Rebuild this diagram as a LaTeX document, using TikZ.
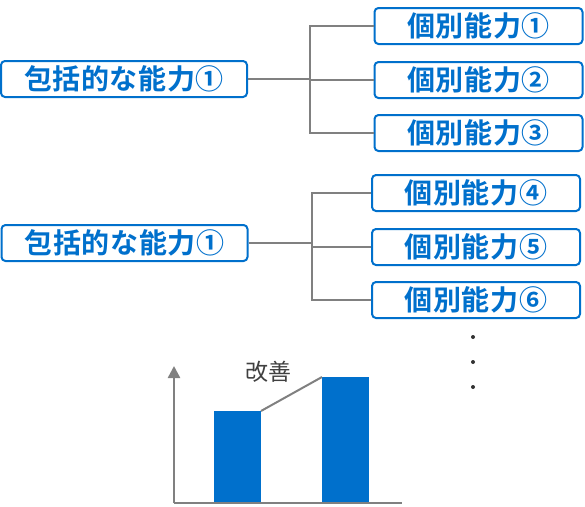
\documentclass[tikz,border=0pt]{standalone}
\usepackage{fontspec}
\usetikzlibrary{arrows.meta}
\newfontfamily\cjk{Noto Sans CJK JP}[BoldFont={Noto Sans CJK JP Bold}]
\newfontfamily\cjkwide{Noto Sans CJK JP}[BoldFont={Noto Sans CJK JP Bold}, LetterSpace=2]
\definecolor{boxblue}{RGB}{0,112,204}
\definecolor{linegray}{RGB}{128,128,128}
\definecolor{textgray}{RGB}{64,64,64}
\definecolor{dotgray}{RGB}{50,50,50}
\tikzset{
  abox/.style={draw=boxblue, line width=2pt, rounded corners=4pt, fill=white,
    text=boxblue, font=\cjkwide\bfseries\fontsize{28}{28}\selectfont, inner sep=0pt, minimum height=36pt},
  lbox/.style={abox, minimum width=246pt},
  rbox/.style={abox, minimum width=208pt},
  conn/.style={draw=linegray, line width=2.5pt},
  bar/.style={fill=boxblue, draw=none},
  dotmark/.style={circle, fill=dotgray, inner sep=0pt, minimum size=4pt}
}
\begin{document}
\begin{tikzpicture}[x=1pt,y=-1pt]
\useasboundingbox (0,0) rectangle (585,506);
% top group
\coordinate (j1) at (310,79);
\node[lbox] (L1) at (124,79) {包括的な能力①};
\node[rbox] (R1) at (478.5,26) {個別能力①};
\node[rbox] (R2) at (478.5,80) {個別能力②};
\node[rbox] (R3) at (478.5,133) {個別能力③};
\draw[conn] (L1.east) -- (L1.east -| j1);
\draw[conn] (R1.west) -| (j1);
\draw[conn] (R2.west) -- (R2.west -| j1);
\draw[conn] (R3.west) -| (j1);
% bottom group
\coordinate (j2) at (312,243);
\node[lbox] (L2) at (124.5,243) {包括的な能力①};
\node[rbox] (R4) at (476,193) {個別能力④};
\node[rbox] (R5) at (476,247) {個別能力⑤};
\node[rbox] (R6) at (476,300) {個別能力⑥};
\draw[conn] (L2.east) -- (L2.east -| j2);
\draw[conn] (R4.west) -| (j2);
\draw[conn] (R5.west) -- (R5.west -| j2);
\draw[conn] (R6.west) -| (j2);
% dots
\node[dotmark] (d1) at (473,337) {};
\node[dotmark] (d2) at (473,362) {};
\node[dotmark] (d3) at (473,387) {};
% chart
\coordinate (origin) at (174,503);
\coordinate (ytip) at (174,366);
\coordinate (xend) at (402,503);
\draw[conn, -{Triangle[width=12pt,length=12pt]}] (origin) -- (ytip);
\draw[conn] (origin) -- (xend);
\fill[bar] (214,411) rectangle (261,502);
\fill[bar] (322,377) rectangle (369,502);
\coordinate (b1) at (261,411);
\coordinate (b2) at (322,377);
\draw[conn, line width=2pt] (b1) -- (b2);
\node[text=textgray, font=\cjk\fontsize{23}{23}\selectfont, inner sep=0pt] (imp) at (268,372) {改善};
\end{tikzpicture}
\end{document}
